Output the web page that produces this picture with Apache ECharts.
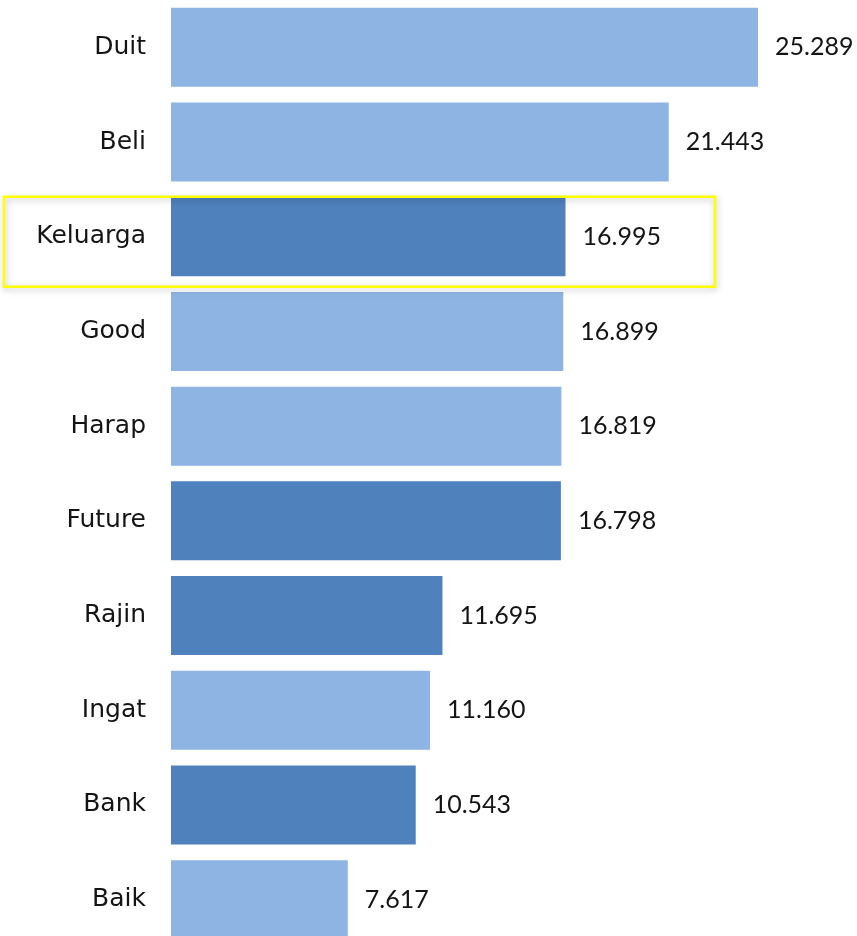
<!DOCTYPE html>
<html>
<head>
<meta charset="utf-8">
<script src="https://cdn.jsdelivr.net/npm/echarts@6/dist/echarts.min.js"></script>
<style>
  html, body { margin: 0; padding: 0; background: #ffffff; overflow: hidden; }
  /* the last row runs past the bottom edge of the window */
  #chart { width: 857px; height: 947px; }
</style>
</head>
<body>
<div id="chart"></div>
<script>
// Word scores, top to bottom
const categories = ['Duit', 'Beli', 'Keluarga', 'Good', 'Harap', 'Future', 'Rajin', 'Ingat', 'Bank', 'Baik'];
const values = [25.289, 21.443, 16.995, 16.899, 16.819, 16.798, 11.695, 11.160, 10.543, 7.617];
// Words drawn in the darker shade
const emphasised = ['Keluarga', 'Future', 'Rajin', 'Bank'];
const highlighted = 'Keluarga';

const LIGHT = '#8EB4E3';
const DARK = '#4F81BD';
const CAT_FONT = '"DejaVu Sans", sans-serif';
const VAL_FONT = 'Lato, "Open Sans", sans-serif';

const chart = echarts.init(document.getElementById('chart'));

chart.setOption({
  animation: false,
  backgroundColor: '#ffffff',
  grid: { left: 171, width: 603.5, top: 0, bottom: 0, containLabel: false },
  xAxis: {
    type: 'value',
    min: 0,
    max: 26,
    show: false
  },
  yAxis: {
    type: 'category',
    data: categories,
    inverse: true,
    axisLine: { show: false },
    axisTick: { show: false },
    splitLine: { show: false },
    axisLabel: {
      margin: 25,
      color: '#141414',
      fontFamily: CAT_FONT,
      fontSize: 25
    }
  },
  series: [{
    type: 'bar',
    barWidth: 79,
    data: categories.map((c, i) => ({
      value: values[i],
      itemStyle: { color: emphasised.includes(c) ? DARK : LIGHT }
    })),
    label: {
      show: true,
      position: 'right',
      distance: 17,
      color: '#141414',
      fontFamily: VAL_FONT,
      fontSize: 25,
      formatter: p => p.value.toFixed(3)
    }
  }]
});

// Yellow frame around the highlighted row
const rowY = chart.convertToPixel({ yAxisIndex: 0 }, highlighted);
chart.setOption({
  graphic: [{
    type: 'rect',
    z: 100,
    shape: { x: 4, y: rowY - 40, width: 711, height: 90 },
    style: {
      fill: 'rgba(0,0,0,0)',
      stroke: '#FFFF00',
      lineWidth: 2.5,
      shadowColor: 'rgba(0,0,0,0.25)',
      shadowBlur: 6,
      shadowOffsetX: 1,
      shadowOffsetY: 2
    }
  }]
});
</script>
</body>
</html>
